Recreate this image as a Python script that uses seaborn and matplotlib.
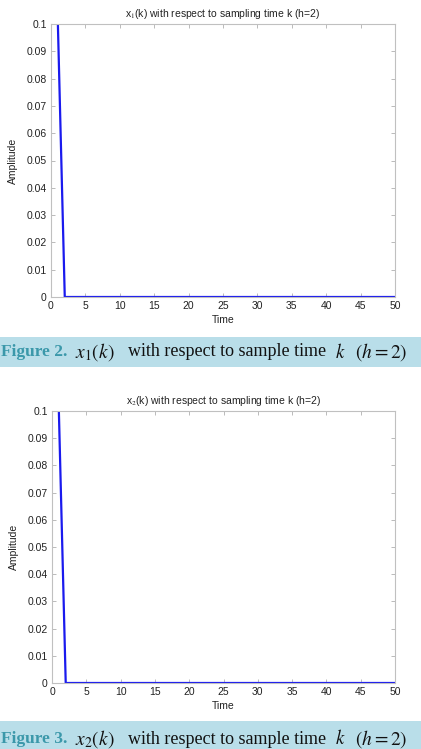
import matplotlib
matplotlib.use("Agg")
import matplotlib.pyplot as plt
import seaborn as sns
import pandas as pd

sns.set_theme(style="white")
plt.rcParams['font.family'] = ['Liberation Sans', 'DejaVu Sans']
plt.rcParams['mathtext.fontset'] = 'stix'

# Data
k = list(range(1, 51))
x1 = [0.1, 0, 0, 0, 0, 0, 0, 0, 0, 0,
      0, 0, 0, 0, 0, 0, 0, 0, 0, 0,
      0, 0, 0, 0, 0, 0, 0, 0, 0, 0,
      0, 0, 0, 0, 0, 0, 0, 0, 0, 0,
      0, 0, 0, 0, 0, 0, 0, 0, 0, 0]
x2 = [0.1, 0, 0, 0, 0, 0, 0, 0, 0, 0,
      0, 0, 0, 0, 0, 0, 0, 0, 0, 0,
      0, 0, 0, 0, 0, 0, 0, 0, 0, 0,
      0, 0, 0, 0, 0, 0, 0, 0, 0, 0,
      0, 0, 0, 0, 0, 0, 0, 0, 0, 0]
xticks = [0, 5, 10, 15, 20, 25, 30, 35, 40, 45, 50]
yticks = [0, 0.01, 0.02, 0.03, 0.04, 0.05, 0.06, 0.07, 0.08, 0.09, 0.1]
ytick_labels = ["0", "0.01", "0.02", "0.03", "0.04", "0.05", "0.06", "0.07", "0.08", "0.09", "0.1"]
titles = [r"x$_1$(k) with respect to sampling time k (h=2)",
          r"x$_2$(k) with respect to sampling time k (h=2)"]
fig_labels = ["Figure 2.", "Figure 3."]
subs = ["1", "2"]

W, H = 421, 749
fig = plt.figure(figsize=(W / 100, H / 100), dpi=100)

def fx(px):
    return px / W

def fy(py):
    return 1 - py / H

axes_px = [(51, 24, 395, 297), (52, 411, 395, 683)]
bands = [(337, 367), (721, 752)]
caption_y = [352, 739]
series = [x1, x2]

for i in range(2):
    l, t, r, b = axes_px[i]
    ax = fig.add_axes([fx(l), fy(b), fx(r - l), (b - t) / H])
    df = pd.DataFrame({"Time": k, "Amplitude": series[i]})
    sns.lineplot(data=df, x="Time", y="Amplitude", ax=ax, color="#1a1aee", linewidth=1.6)
    ax.set_xlim(0, 50)
    ax.set_ylim(0, 0.1)
    ax.set_xticks(xticks)
    ax.set_xticklabels([str(v) for v in xticks])
    ax.set_yticks(yticks)
    ax.set_yticklabels(ytick_labels)
    ax.tick_params(direction="in", length=3, width=0.6, color="#b0b0b0",
                   labelsize=7.5, labelcolor="#222222", pad=3,
                   top=True, right=True, bottom=True, left=True)
    for s in ax.spines.values():
        s.set_color("#c0c0c0")
        s.set_linewidth(0.8)
    ax.set_title(titles[i], fontsize=7.5, color="#222222", pad=5)
    ax.set_xlabel("Time", fontsize=7.5, color="#222222", labelpad=3)
    ax.set_ylabel("Amplitude", fontsize=7.5, color="#222222", labelpad=6)

    # caption band
    b0, b1 = bands[i]
    band = plt.Rectangle((0, fy(b1)), 1, (b1 - b0) / H, transform=fig.transFigure,
                         facecolor="#b9dee9", edgecolor="none", zorder=0)
    fig.patches.append(band)
    cy = fy(caption_y[i])
    fig.text(fx(1), cy, fig_labels[i], fontsize=12.5, fontweight="bold",
             family="Liberation Serif", color="#3b98aa", va="center", ha="left")
    fig.text(fx(75), cy, r"$x_{%s}\left(k\right)$" % subs[i], fontsize=14,
             color="#111111", va="center", ha="left")
    fig.text(fx(128), cy, "with respect to sample time", fontsize=13,
             family="Liberation Serif", color="#111111", va="center", ha="left")
    fig.text(fx(335), cy, r"$k$", fontsize=13.5, color="#111111", va="center", ha="left")
    fig.text(fx(355), cy, r"$\left(h = 2\right)$", fontsize=14, color="#111111",
             va="center", ha="left")

fig.savefig("out.png", dpi=100)
